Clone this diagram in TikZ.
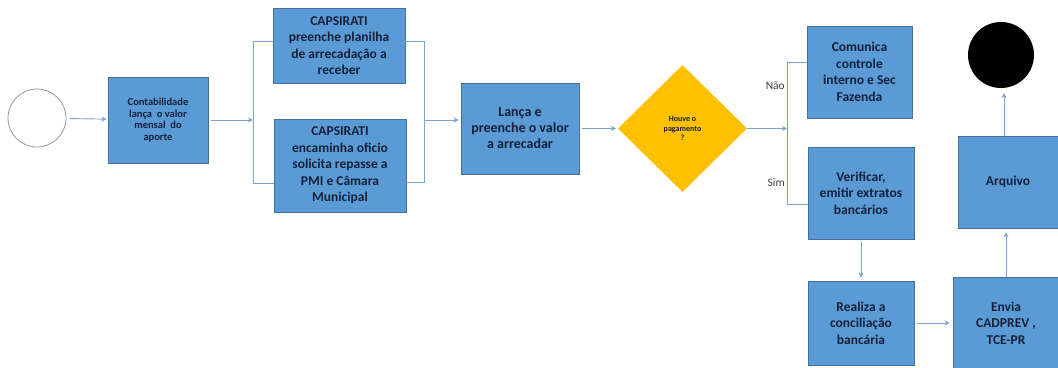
\documentclass[tikz,border=0pt]{standalone}
\usepackage{fontspec}
\setmainfont{Carlito}
\usetikzlibrary{shapes.geometric,arrows.meta}
\definecolor{boxfill}{HTML}{5B9BD5}
\definecolor{boxline}{HTML}{41719C}
\definecolor{conn}{HTML}{7BA4D4}
\definecolor{txt}{HTML}{15203A}
\definecolor{gold}{HTML}{FFC000}
\tikzset{
  bx/.style={rectangle,draw=boxline,line width=0.8pt,fill=boxfill,text=txt,
    font=\bfseries\fontsize{13.5}{16.5}\selectfont,align=center,inner sep=0pt},
  conline/.style={draw=conn,line width=0.9pt},
  arr/.style={conline,-{Stealth[length=5pt,width=5pt]}},
  lbl/.style={font=\fontsize{11.5}{13}\selectfont,text=black!75,anchor=east,inner sep=0pt}
}
\begin{document}
\begin{tikzpicture}[x=1pt,y=-1pt]
\useasboundingbox (0,0) rectangle (1058,367);
\begin{scope}
\clip (0,0) rectangle (1058,367);
% nodes
\node[circle,draw=black!40,line width=0.8pt,fill=white,minimum size=58pt,inner sep=0pt] (start) at (37,118) {};
\node[bx,minimum width=100pt,minimum height=86pt,font=\bfseries\fontsize{10.5}{11.7}\selectfont] (b1) at (158,120) {Contabilidade\\lança~ o valor\\mensal~ do\\aporte};
\node[bx,minimum width=132pt,minimum height=75pt] (b2) at (339,45.5) {CAPSIRATI\\preenche planilha\\de arrecadação a\\receber};
\node[bx,minimum width=132pt,minimum height=93pt] (b3) at (340,165.5) {CAPSIRATI\\encaminha oficio\\solicita repasse a\\PMI e Câmara\\Municipal};
\node[bx,minimum width=118pt,minimum height=91pt,font=\bfseries\fontsize{14}{16}\selectfont] (b4) at (520,128.5) {Lança e\\preenche o valor\\a arrecadar};
\node[diamond,fill=gold,minimum width=129pt,minimum height=127pt,inner sep=0pt,text=txt,
  font=\bfseries\fontsize{8}{9.5}\selectfont,align=center] (dia) at (682.5,128.5) {Houve o\\pagamento\\?};
\node[bx,minimum width=105pt,minimum height=92pt] (b5) at (859.5,72) {Comunica\\controle\\interno e Sec\\Fazenda};
\node[bx,minimum width=106pt,minimum height=92pt] (b6) at (861,193) {Verificar,\\emitir extratos\\bancários};
\node[bx,minimum width=106pt,minimum height=84pt] (b7) at (861,323) {Realiza a\\conciliação\\bancária};
\node[bx,minimum width=106pt,minimum height=92pt] (b8) at (1006,323) {Envia\\CADPREV ,\\TCE-PR};
\node[bx,minimum width=100pt,minimum height=92pt] (arq) at (1008,182) {Arquivo};
\node[circle,fill=black,minimum size=66pt,inner sep=0pt] (end) at (1001,55) {};
% coordinates
\coordinate (lt) at (253,41);
\coordinate (lb) at (253,183);
\coordinate (rt) at (424,41);
\coordinate (rb) at (424,182);
\coordinate (ra) at (424,120);
\coordinate (dt) at (787,62);
\coordinate (db) at (787,204);
\coordinate (dm) at (787,128.5);
% connectors
\draw[arr,shorten <=3pt,shorten >=1pt] (start) -- (b1);
\draw[arr,shorten <=3pt] (b1.east) -- (b1.east -| lt);
\draw[conline] (b2.west |- lt) -- (lt) -- (lb) -- (b3.west |- lb);
\draw[conline] (b2.east |- rt) -- (rt) -- (rb) -- (b3.east |- rb);
\draw[arr,shorten >=2pt] (ra) -- (b4.west |- ra);
\draw[arr,shorten <=3pt,shorten >=2pt] (b4.east) -- (dia.west);
\draw[arr] (dia.east) -- (dm);
\draw[conline] (b5.west |- dt) -- (dt) -- (db) -- (b6.west |- db);
\draw[arr,shorten <=3pt,shorten >=3pt] (b6.south) -- (b7.north);
\draw[arr,shorten <=3pt,shorten >=3pt] (b7.east) -- (b8.west);
\draw[arr,shorten >=4pt] (b8.north) -- (b8.north |- arq.south);
\draw[arr,shorten >=5pt] ([xshift=-4pt]arq.north) -- ([xshift=-4pt]arq.north |- end.south);
% labels
\node[lbl] (lno) at (785,86) {Não};
\node[lbl] (lsim) at (785,183) {Sim};
\end{scope}
\end{tikzpicture}
\end{document}
